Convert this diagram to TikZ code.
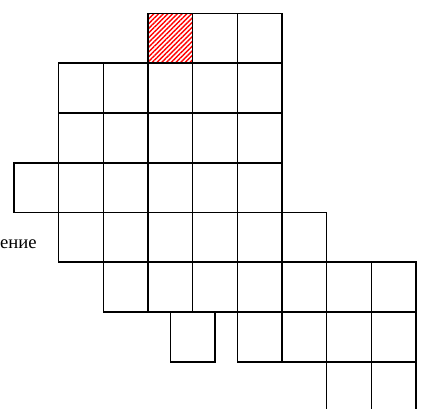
\documentclass[tikz,border=0pt]{standalone}
\usepackage{fontspec}
\setmainfont{Liberation Serif}
\usetikzlibrary{patterns.meta}
\tikzset{
  cellbox/.style={draw=black, line width=1.2pt},
  hatchcell/.style={pattern={Lines[angle=45,distance=2.5pt,line width=1.05pt]}, pattern color=red},
  lbl/.style={font=\fontsize{14}{16}\selectfont, inner sep=0pt, anchor=base east}
}
\newcommand\gcell[3][]{\path[cellbox,#1] ({14+44.67*#2},{13.5+49.75*#3}) rectangle ++(44.67,49.75);}
\begin{document}
\begin{tikzpicture}[x=0.75pt,y=-0.75pt]
\useasboundingbox (0,0) rectangle (434,408);
\clip (0,0) rectangle (434,408);
% hatched cell
\fill[hatchcell] ({14+44.67*3},13.5) rectangle ++(44.67,49.75);
% row 0
\foreach \c in {3,4,5} {\gcell{\c}{0}}
% rows 1,2
\foreach \r in {1,2} {\foreach \c in {1,...,5} {\gcell{\c}{\r}}}
% row 3
\foreach \c in {0,...,5} {\gcell{\c}{3}}
% row 4
\foreach \c in {1,...,6} {\gcell{\c}{4}}
% row 5
\foreach \c in {2,...,8} {\gcell{\c}{5}}
% row 6
\gcell{3.5}{6}
\foreach \c in {5,...,8} {\gcell{\c}{6}}
% row 7
\foreach \c in {7,8} {\gcell{\c}{7}}
\node[lbl] (label) at (37,248) {ение};
\end{tikzpicture}
\end{document}
